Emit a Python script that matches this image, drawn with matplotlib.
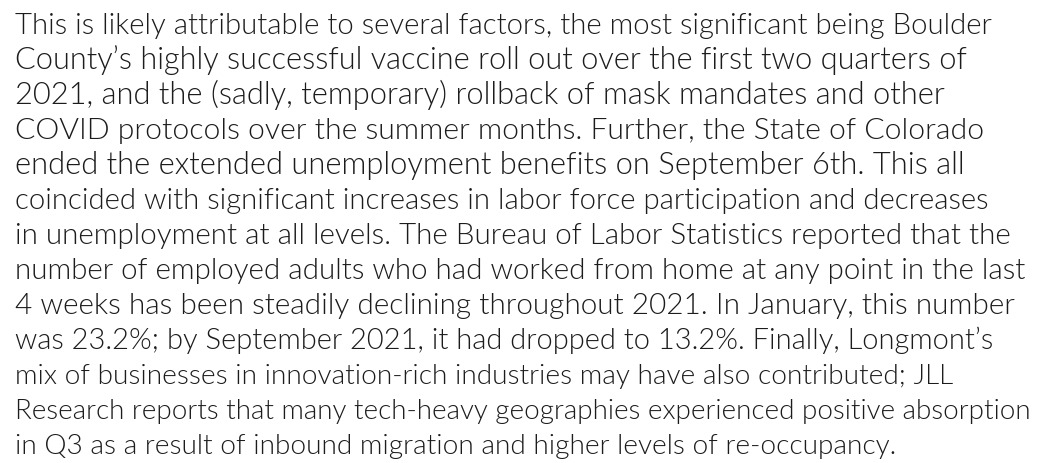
import matplotlib
matplotlib.use("Agg")
import matplotlib.pyplot as plt

lines = [
    "This is likely attributable to several factors, the most significant being Boulder",
    "County\u2019s highly successful vaccine roll out over the first two quarters of",
    "2021, and the (sadly, temporary) rollback of mask mandates and other",
    "COVID protocols over the summer months. Further, the State of Colorado",
    "ended the extended unemployment benefits on September 6th. This all",
    "coincided with significant increases in labor force participation and decreases",
    "in unemployment at all levels. The Bureau of Labor Statistics reported that the",
    "number of employed adults who had worked from home at any point in the last",
    "4 weeks has been steadily declining throughout 2021. In January, this number",
    "was 23.2%; by September 2021, it had dropped to 13.2%. Finally, Longmont\u2019s",
    "mix of businesses in innovation-rich industries may have also contributed; JLL",
    "Research reports that many tech-heavy geographies experienced positive absorption",
    "in Q3 as a result of inbound migration and higher levels of re-occupancy.",
]
# right edge of each line in the reference (pixels)
line_right = [992, 967, 984, 982, 963, 988, 1013, 1023, 1011, 993, 948, 1026, 893]

W, H = 1044, 464
fig = plt.figure(figsize=(W / 100, H / 100), dpi=100)
fig.patch.set_facecolor("white")
renderer = fig.canvas.get_renderer()

x0 = 15
y_first = 34
step = 35.0
base = 21.0
for i, ln in enumerate(lines):
    y = y_first + i * step
    t = fig.text(x0 / W, 1 - y / H, ln, fontsize=base, family="Lato", fontweight=300,
                 color="#1c1c1c", ha="left", va="baseline")
    w = t.get_window_extent(renderer).width
    s = base * (line_right[i] - x0) / w
    s = max(base * 0.94, min(base * 1.06, s))
    t.set_fontsize(s)

fig.savefig("out.png", dpi=100, facecolor="white")
